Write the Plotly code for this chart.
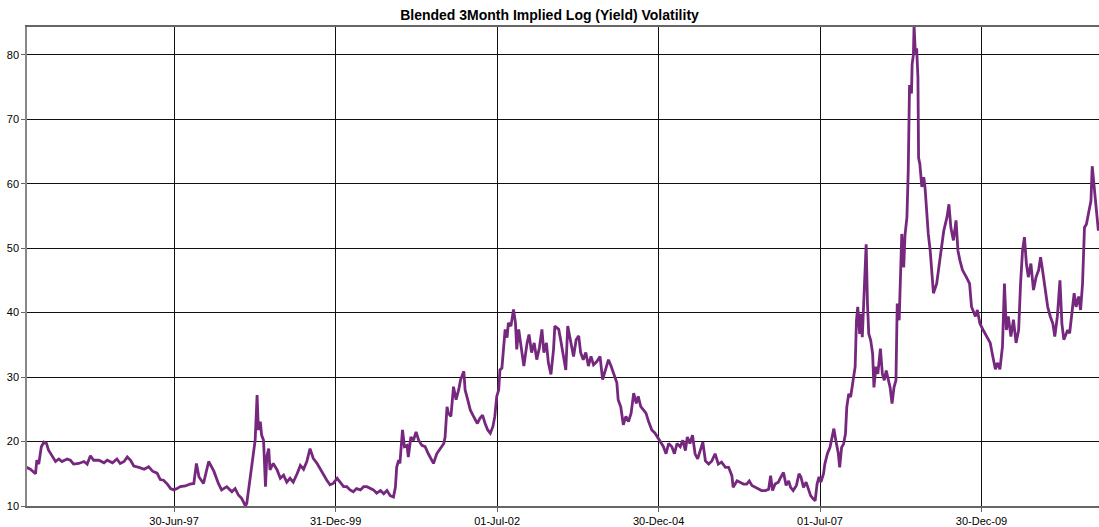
import datetime as dt
import plotly.graph_objects as go

# Observation times (decimal years) and blended 3M implied log-vol values (%)
years = [
    1995.21, 1995.27, 1995.35, 1995.37, 1995.40, 1995.44, 1995.48, 1995.52, 1995.55, 1995.60,
    1995.66, 1995.71, 1995.76, 1995.84, 1995.89, 1995.94, 1996.02, 1996.10, 1996.15, 1996.20,
    1996.25, 1996.33, 1996.41, 1996.46, 1996.54, 1996.61, 1996.66, 1996.72, 1996.77, 1996.82,
    1996.87, 1996.95, 1997.03, 1997.10, 1997.16, 1997.23, 1997.28, 1997.33, 1997.39, 1997.44,
    1997.49, 1997.54, 1997.59, 1997.67, 1997.74, 1997.80, 1997.84, 1997.88, 1997.95, 1998.03,
    1998.11, 1998.18, 1998.23, 1998.31, 1998.39, 1998.44, 1998.49, 1998.54, 1998.60, 1998.62,
    1998.67, 1998.72, 1998.75, 1998.78, 1998.80, 1998.83, 1998.85, 1998.88, 1998.91, 1998.93,
    1998.96, 1998.98, 1999.03, 1999.09, 1999.14, 1999.19, 1999.24, 1999.29, 1999.34, 1999.40,
    1999.45, 1999.50, 1999.55, 1999.60, 1999.65, 1999.71, 1999.76, 1999.81, 1999.86, 1999.91,
    1999.96, 2000.02, 2000.07, 2000.12, 2000.17, 2000.22, 2000.27, 2000.32, 2000.38, 2000.43,
    2000.48, 2000.53, 2000.58, 2000.63, 2000.69, 2000.74, 2000.79, 2000.84, 2000.89, 2000.92,
    2000.94, 2000.97, 2000.99, 2001.03, 2001.06, 2001.10, 2001.12, 2001.16, 2001.20, 2001.24,
    2001.28, 2001.33, 2001.38, 2001.43, 2001.48, 2001.51, 2001.56, 2001.61, 2001.67, 2001.69,
    2001.72, 2001.74, 2001.78, 2001.82, 2001.86, 2001.90, 2001.93, 2001.98, 2002.00, 2002.04,
    2002.08, 2002.12, 2002.16, 2002.19, 2002.23, 2002.27, 2002.31, 2002.35, 2002.39, 2002.43,
    2002.46, 2002.49, 2002.52, 2002.54, 2002.57, 2002.59, 2002.62, 2002.65, 2002.67, 2002.71,
    2002.75, 2002.78, 2002.80, 2002.83, 2002.85, 2002.88, 2002.91, 2002.96, 2002.99, 2003.03,
    2003.07, 2003.11, 2003.15, 2003.19, 2003.22, 2003.26, 2003.29, 2003.33, 2003.37, 2003.39,
    2003.45, 2003.48, 2003.52, 2003.56, 2003.59, 2003.63, 2003.68, 2003.72, 2003.76, 2003.79,
    2003.83, 2003.87, 2003.91, 2003.95, 2003.99, 2004.04, 2004.09, 2004.13, 2004.17, 2004.22,
    2004.26, 2004.31, 2004.35, 2004.37, 2004.41, 2004.45, 2004.49, 2004.53, 2004.57, 2004.61,
    2004.65, 2004.68, 2004.72, 2004.76, 2004.80, 2004.84, 2004.89, 2004.94, 2004.99, 2005.03,
    2005.07, 2005.11, 2005.15, 2005.20, 2005.24, 2005.28, 2005.33, 2005.37, 2005.41, 2005.44,
    2005.48, 2005.52, 2005.56, 2005.60, 2005.64, 2005.68, 2005.72, 2005.77, 2005.82, 2005.87,
    2005.92, 2005.97, 2006.03, 2006.08, 2006.13, 2006.15, 2006.21, 2006.26, 2006.31, 2006.36,
    2006.40, 2006.44, 2006.49, 2006.54, 2006.59, 2006.65, 2006.70, 2006.73, 2006.76, 2006.80,
    2006.85, 2006.89, 2006.93, 2006.97, 2007.01, 2007.04, 2007.08, 2007.13, 2007.17, 2007.20,
    2007.24, 2007.28, 2007.32, 2007.35, 2007.39, 2007.42, 2007.45, 2007.48, 2007.51, 2007.55,
    2007.57, 2007.61, 2007.65, 2007.68, 2007.71, 2007.74, 2007.78, 2007.80, 2007.83, 2007.86,
    2007.89, 2007.91, 2007.94, 2007.97, 2008.00, 2008.02, 2008.04, 2008.06, 2008.08, 2008.11,
    2008.13, 2008.15, 2008.17, 2008.19, 2008.21, 2008.23, 2008.25, 2008.28, 2008.31, 2008.33,
    2008.36, 2008.39, 2008.43, 2008.46, 2008.49, 2008.52, 2008.55, 2008.58, 2008.61, 2008.64,
    2008.67, 2008.69, 2008.72, 2008.76, 2008.79, 2008.81, 2008.84, 2008.86, 2008.88, 2008.91,
    2008.92, 2008.94, 2008.95, 2008.97, 2008.99, 2009.01, 2009.02, 2009.04, 2009.07, 2009.10,
    2009.12, 2009.15, 2009.17, 2009.20, 2009.225, 2009.25, 2009.30, 2009.35, 2009.41, 2009.46,
    2009.49, 2009.52, 2009.56, 2009.60, 2009.63, 2009.66, 2009.70, 2009.76, 2009.81, 2009.84,
    2009.90, 2009.93, 2009.97, 2010.02, 2010.08, 2010.13, 2010.17, 2010.21, 2010.24, 2010.28,
    2010.32, 2010.35, 2010.38, 2010.41, 2010.45, 2010.49, 2010.53, 2010.57, 2010.60, 2010.63,
    2010.66, 2010.69, 2010.72, 2010.76, 2010.80, 2010.84, 2010.88, 2010.91, 2010.94, 2010.98,
    2011.02, 2011.06, 2011.10, 2011.13, 2011.17, 2011.21, 2011.24, 2011.27, 2011.33, 2011.36,
    2011.39, 2011.43, 2011.46, 2011.50, 2011.53, 2011.56, 2011.59, 2011.62, 2011.66, 2011.69,
    2011.71, 2011.74, 2011.77, 2011.805,
]
vols = [
    16.0, 15.7, 15.0, 17.1, 16.5, 19.2, 19.9, 19.7, 18.7, 17.9,
    16.9, 17.3, 16.9, 17.3, 17.1, 16.5, 16.6, 16.9, 16.5, 17.8,
    17.1, 17.1, 16.7, 17.1, 16.7, 17.3, 16.6, 16.9, 17.6, 17.1,
    16.2, 16.0, 15.7, 16.1, 15.4, 15.1, 14.1, 14.0, 13.4, 12.7,
    12.5, 12.7, 13.0, 13.1, 13.4, 13.5, 16.6, 14.5, 13.5, 16.9,
    15.4, 13.5, 12.5, 13.0, 12.2, 12.7, 11.7, 11.2, 10.0, 10.4,
    14.0, 17.6, 20.2, 27.2, 21.8, 23.1, 21.0, 20.2, 13.0, 17.6,
    18.9, 15.6, 16.6, 15.6, 14.3, 14.8, 13.7, 14.3, 13.7, 15.0,
    16.3, 15.7, 16.9, 18.9, 17.4, 16.6, 15.7, 14.8, 14.0, 13.3,
    13.5, 14.3, 13.7, 13.0, 13.0, 12.5, 12.2, 12.7, 12.5, 13.0,
    13.0, 12.7, 12.5, 12.0, 12.4, 11.9, 12.4, 11.6, 11.4, 12.9,
    16.0, 17.1, 16.6, 21.8, 19.2, 19.4, 17.6, 20.7, 20.2, 21.5,
    20.2, 19.4, 19.2, 18.1, 17.3, 16.6, 18.1, 18.9, 19.7, 20.7,
    25.4, 24.4, 23.9, 28.5, 26.5, 28.0, 29.6, 30.9, 28.0, 26.5,
    24.9, 24.1, 23.3, 22.8, 23.6, 24.1, 22.8, 21.8, 21.3, 22.3,
    23.9, 27.0, 28.0, 31.1, 31.4, 34.3, 37.4, 36.1, 38.4, 37.9,
    40.5, 38.4, 34.3, 37.4, 35.8, 34.3, 31.7, 35.3, 36.6, 33.8,
    35.3, 32.7, 34.5, 37.4, 33.8, 35.3, 32.2, 30.4, 34.3, 37.9,
    37.4, 35.8, 33.2, 31.1, 37.9, 35.8, 33.2, 35.8, 36.4, 33.8,
    32.7, 33.8, 31.7, 33.2, 31.9, 32.4, 33.2, 29.6, 31.1, 32.7,
    31.7, 30.1, 29.1, 26.5, 25.4, 22.6, 23.9, 23.1, 24.4, 27.5,
    25.9, 27.0, 25.4, 24.9, 24.4, 23.1, 21.8, 21.3, 20.4, 19.7,
    19.2, 18.1, 19.7, 19.2, 18.1, 19.7, 19.2, 20.2, 18.6, 20.7,
    19.7, 21.0, 18.1, 17.3, 18.6, 19.9, 17.0, 16.5, 17.0, 18.1,
    16.5, 16.8, 16.0, 16.0, 14.7, 12.9, 13.9, 13.7, 13.4, 13.4,
    13.9, 13.2, 12.9, 12.6, 12.4, 12.4, 12.6, 14.7, 12.4, 13.4,
    13.7, 14.5, 15.2, 13.2, 13.9, 12.9, 12.4, 13.2, 15.0, 14.5,
    12.9, 13.7, 12.4, 11.6, 11.1, 10.8, 13.4, 14.5, 13.7, 15.0,
    16.5, 18.1, 19.1, 20.7, 22.0, 20.2, 18.1, 16.0, 19.1, 19.6,
    21.2, 25.3, 27.4, 26.9, 29.0, 30.5, 31.6, 38.8, 40.9, 36.7,
    39.8, 36.2, 40.9, 44.0, 50.6, 41.4, 36.7, 35.7, 33.6, 28.4,
    31.6, 30.5, 34.4, 30.5, 29.5, 31.0, 29.5, 28.4, 25.9, 28.4,
    29.5, 41.4, 38.8, 52.2, 47.0, 52.0, 54.8, 62.0, 75.3, 74.0,
    78.5, 80.0, 84.6, 80.2, 81.0, 76.5, 64.0, 63.0, 59.5, 61.0,
    59.4, 54.8, 52.2, 49.6, 45.5, 43.0, 44.5, 48.1, 52.7, 54.8,
    56.8, 53.2, 51.2, 54.3, 49.6, 48.1, 46.6, 45.5, 44.5, 40.9,
    39.4, 40.4, 38.3, 37.3, 36.3, 35.3, 33.2, 31.2, 32.2, 31.2,
    34.8, 44.5, 37.3, 39.4, 36.3, 38.9, 35.3, 37.3, 44.5, 49.6,
    51.7, 47.6, 45.5, 47.6, 43.5, 45.5, 46.6, 48.6, 46.6, 43.5,
    40.9, 39.4, 38.3, 36.3, 39.4, 45.0, 38.3, 35.8, 37.3, 36.8,
    39.4, 43.0, 40.9, 42.5, 40.4, 44.5, 53.2, 53.7, 55.8, 57.3,
    62.7, 59.4, 56.3, 52.7,
]

tick_dates = ["1997-06-30", "1999-12-31", "2002-07-01", "2004-12-30", "2007-07-01", "2009-12-30"]
tick_labels = ["30-Jun-97", "31-Dec-99", "01-Jul-02", "30-Dec-04", "01-Jul-07", "30-Dec-09"]
y_ticks = [10, 20, 30, 40, 50, 60, 70, 80]
title = "Blended 3Month Implied Log (Yield) Volatility"


def to_date(y):
    yr = int(y)
    start = dt.datetime(yr, 1, 1)
    days = (dt.datetime(yr + 1, 1, 1) - start).days
    return start + dt.timedelta(days=(y - yr) * days)


dates = [to_date(y) for y in years]
x_range = [to_date(1995.218), to_date(2011.815)]

fig = go.Figure()
fig.add_trace(go.Scatter(
    x=dates, y=vols, mode="lines",
    line=dict(color="#76287E", width=2.8),
    showlegend=False, hoverinfo="skip",
))

fig.update_layout(
    template="none",
    width=1099, height=527,
    margin=dict(l=27, r=0, t=27, b=21, autoexpand=False),
    paper_bgcolor="white", plot_bgcolor="white",
    font=dict(family="Liberation Sans, Arial, sans-serif", size=11, color="#000000"),
    title=dict(text=title, x=0.5, xanchor="center", y=0.972, yanchor="middle",
               font=dict(family="Liberation Sans, Arial, sans-serif", size=14, color="#000000",
                         weight="bold")),
)
fig.update_xaxes(
    type="date", range=x_range, automargin=False,
    tickvals=tick_dates, ticktext=tick_labels,
    showgrid=True, gridcolor="#111111", gridwidth=1,
    showline=True, linecolor="#666666", linewidth=1.5, mirror=True,
    ticks="outside", ticklen=4, tickcolor="#666666",
    tickfont=dict(size=11, color="#000000"),
    zeroline=False,
)
fig.update_yaxes(
    range=[10, 84.3], tickvals=y_ticks, automargin=False,
    showgrid=True, gridcolor="#111111", gridwidth=1,
    showline=True, linecolor="#888888", linewidth=1.5, mirror=True,
    ticks="outside", ticklen=4, tickcolor="#666666",
    tickfont=dict(size=11, color="#000000"),
    zeroline=False,
)

fig.write_html(
    "out.html",
    config={"displayModeBar": False},
    post_script="document.body.style.margin='0';document.body.style.overflow='hidden';",
)
